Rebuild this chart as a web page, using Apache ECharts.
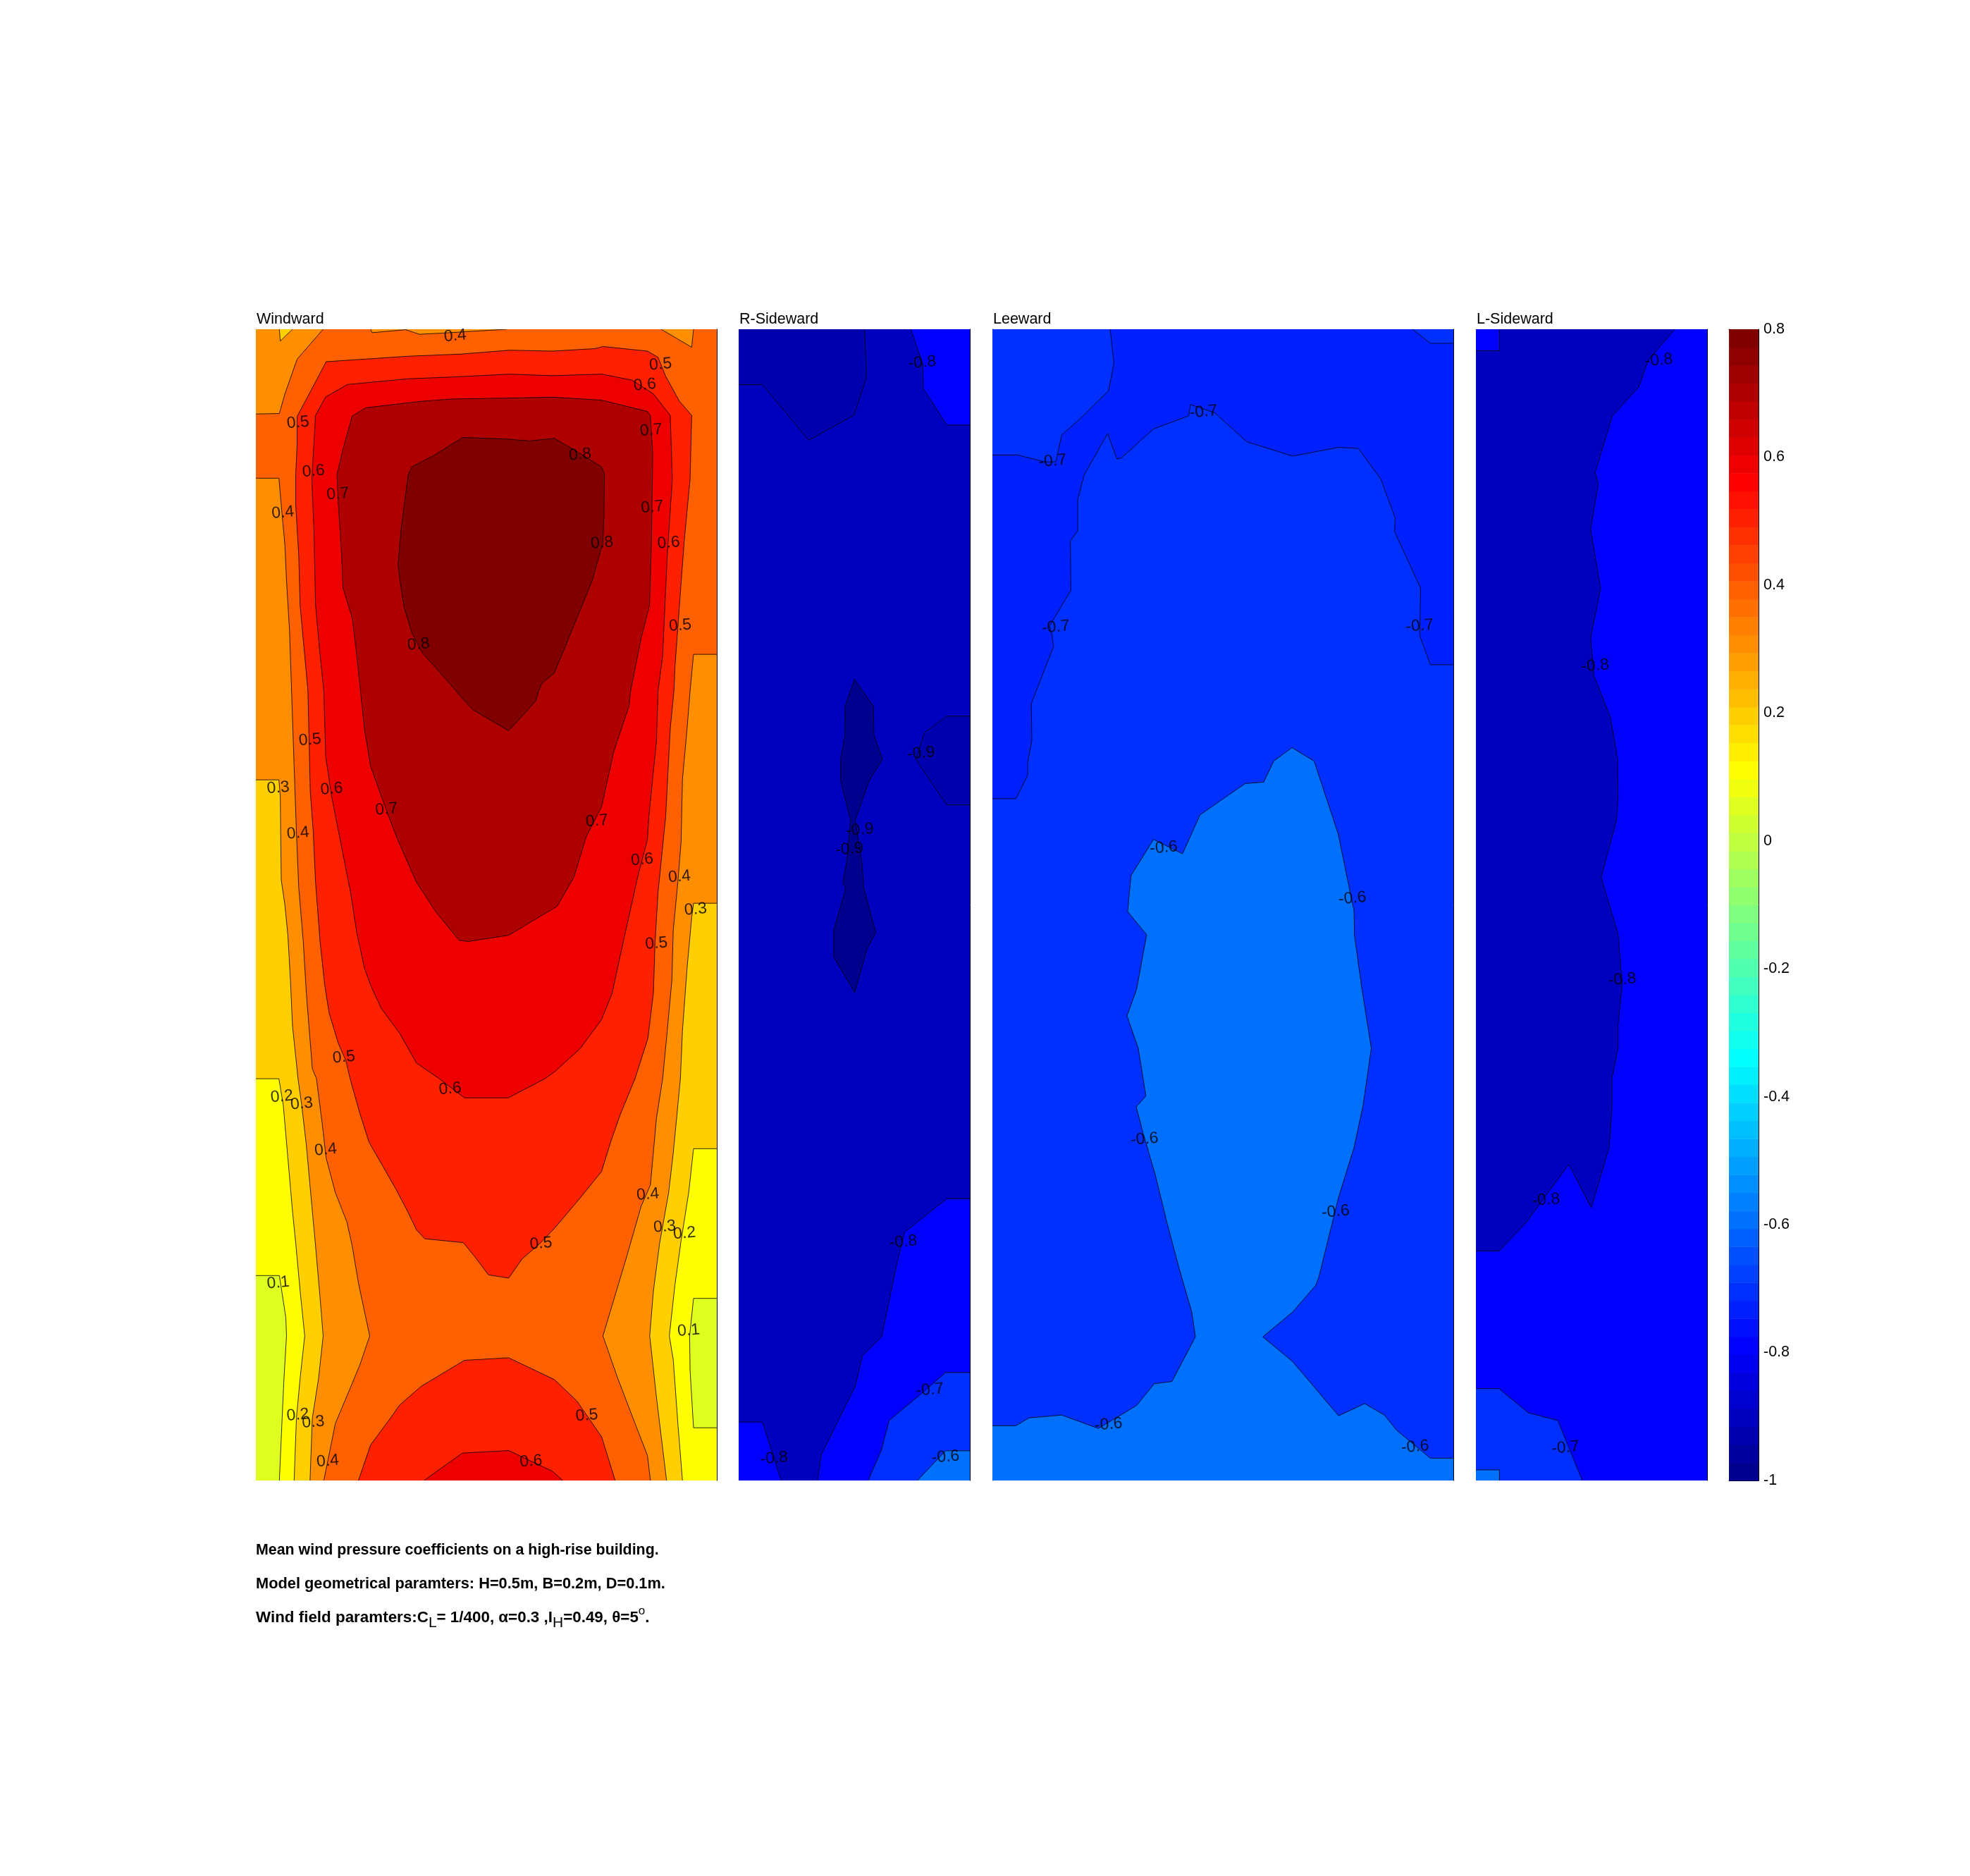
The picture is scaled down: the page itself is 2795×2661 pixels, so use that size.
<!DOCTYPE html>
<html><head><meta charset="utf-8">
<style>html,body{margin:0;padding:0;background:#fff}#c{width:2795px;height:2661px}</style>
<script src="https://cdn.jsdelivr.net/npm/echarts@6/dist/echarts.min.js"></script>
</head><body><div id="c"></div>
<script>
// Contour regions, in model millimetres: x across the face, y = height above ground.
const faceW = [[0,0],[200,0],[200,500],[0,500]];
const faceD = [[0,0],[100,0],[100,500],[0,500]];

// ---- Windward (B = 200 mm)
const wLowL = [[0,89],[10.2,89],[13,70.8],[13.3,62.8],[12.2,44.3],[11.3,24.8],[10.2,0],[0,0]];
const wLowR = [[200,79.1],[189.9,79.1],[188.2,62.8],[188.4,47.8],[189.9,22.9],[200,22.9]];
const w02 = [[16.6,0],[17.6,27.1],[19.2,44.3],[21.2,62.8],[19.2,82.4],[17.3,103.1],[15.9,116.9],[13.9,140],[11.9,163],[10,174.5],[0,174.5],[0,500],[200,500],[200,144.1],[189.9,144.1],[187.8,125],[184.5,104.2],[181.8,84.7],[179.4,62.8],[181.1,52.4],[183.1,24.8],[185.1,0]];
const w03 = [[23.5,0],[24.5,27.1],[27.2,44.3],[29.2,62.8],[27.9,78.9],[25.9,101.9],[24.3,119.2],[21.9,145.7],[19.9,163],[18.3,174.5],[15.9,197.5],[15,217.2],[13.9,236.8],[12.6,250],[11,260.9],[10.6,297],[10,304.3],[0,304.3],[0,500],[200,500],[200,250.7],[189.9,250.7],[189.1,244.5],[187.1,222.6],[185.1,195.3],[184.2,174.5],[181.1,142.2],[179.1,125],[175.2,103.1],[172.5,82.4],[170.9,62.8],[173.8,36.3],[178.2,0]];
const w03Top = [[10.2,500],[10.6,494.9],[15.9,500]];
const w04 = [[29.5,0],[34.5,24.8],[39.8,37.4],[45.1,50.1],[49.4,62.8],[44.5,85.8],[41.8,101.9],[39.5,112.3],[34.5,125],[30.5,140],[28.8,154.9],[26.3,174.5],[24.5,178.9],[21.9,211.7],[20.6,233.6],[18.6,257.6],[17.6,281.7],[16.6,310.1],[15.5,342.9],[14.6,369.1],[13.3,391],[12.6,406.3],[11.3,420.5],[10,435.3],[0,435.3],[0,463.2],[10.2,463.4],[12.6,471.9],[17.9,487],[29.2,500],[175.8,500],[189.1,492.2],[189.9,500],[200,500],[200,358.8],[189.9,358.8],[188.4,342.9],[187.1,326.5],[185.1,304.6],[184.5,277.3],[183.1,259.8],[181.1,239],[180.5,217.2],[178.5,195.3],[176.5,174.5],[173.8,157.2],[171.2,128.4],[167.2,119.2],[160.6,96.2],[150.6,62.8],[156.6,45.5],[163.2,28.2],[169.9,10.9],[171.2,0]];
const w04Top = [[49.8,500],[50.4,498.5],[65,499.8],[71,497.8],[82.3,498.4],[108.8,500]];
const w05Up = [[30.5,485.9],[66.4,488.3],[88.9,489.2],[110.1,490.9],[128.7,490.5],[147.3,491.6],[150.6,492.5],[169.9,490.5],[174.5,487.8],[177.8,479.6],[183.8,468.7],[189.1,462.6],[188.4,434.8],[185.8,407.4],[183.8,380.1],[181.8,352.7],[181.4,342.9],[179.8,326.5],[177.8,288.2],[174.5,255.4],[173.2,233.6],[172.5,211.7],[170.1,192],[164.5,174.5],[157.9,158.4],[153.9,146.9],[150,134.2],[140.7,122.7],[130,110],[123.4,103.1],[115.5,96.2],[109.7,87.9],[100.9,89.3],[94.9,97.3],[90,103.3],[73.3,105],[69.7,108.8],[66.4,115.8],[61,126.1],[55.1,136.5],[49.1,146.9],[45.1,159.5],[40.9,174.5],[39.1,182.2],[35.8,189.8],[31.8,202.9],[29.9,215],[27.9,233.6],[25.9,259.8],[24.9,281.7],[23.6,299.2],[22.6,342.9],[21.2,358.2],[19.2,380.1],[18.6,402],[17.3,423.8],[17.3,436.9],[17.9,450.1],[17.9,462.1],[27.2,479.6]];
const w05Low = [[44.5,0],[49.8,15.5],[58.4,27.1],[62.4,32.8],[71.7,40.9],[90.5,52.2],[109.7,53.3],[129.6,43.8],[139.3,34.5],[150,19],[155.9,0]];
const w06Up = [[39.8,476],[66.4,478.5],[88.9,479.4],[110.1,480.5],[128.7,479.8],[150,480.5],[163.2,477.9],[172.5,471.9],[179.8,462.6],[180.7,434.8],[178.5,402],[176.5,358.2],[174.5,342.9],[173.8,321],[170.5,288.2],[169.9,278.4],[165.9,263.1],[158.6,230.3],[154.6,211.7],[150,200.2],[140.7,187.6],[130,177.8],[125.4,174.5],[109.5,166.2],[90.5,166.2],[79.6,174.5],[69.7,181.3],[62.4,194.2],[54.4,205.1],[49.8,215],[47.1,222.6],[43.8,237.9],[41.1,255.4],[37.2,275.1],[32.9,297],[30.3,314.5],[29.5,342.9],[27.9,358.2],[25.9,380.1],[25.2,412.9],[24.3,434.8],[25.9,462.6],[30.3,470.6]];
const w06Low = [[73,0],[89.6,11.9],[109.7,13],[128.7,4],[133.1,0]];
const w07 = [[47.8,465.9],[71.7,468.7],[84.9,469.7],[108.8,470.1],[128.7,470.5],[150,469.2],[169.9,464.3],[171.2,462.6],[172.2,445.7],[171.8,418.3],[171.5,402],[170.8,380.1],[167.2,365.9],[162.6,342.9],[161.9,336.3],[155.3,316.6],[150,292.6],[143.3,279.5],[138,262],[130.7,249.4],[109.7,236.8],[92.2,234.1],[88.2,234.6],[78.3,246.7],[69.7,259.8],[61,279.5],[55.7,293.7],[49.8,310.1],[47.1,326.5],[45.4,342.9],[43.8,358.2],[41.8,374.6],[37.8,387.7],[37.2,402],[35.8,423.8],[35.2,436.9],[37.8,447.9],[41.8,462.3]];
const w08 = [[89.8,453],[108.8,452.3],[118.8,451.5],[129.6,452.6],[141.3,445.7],[150,440.2],[151.3,436.9],[151,418.3],[150.6,407.4],[146,391],[139.3,374.6],[134,361.5],[129.4,350.6],[124.1,346.2],[122.7,342.9],[121.4,338.5],[109.7,325.6],[94.2,334.7],[89.6,339.6],[86.9,342.9],[78.3,352.7],[72.3,359.3],[67.7,368.1],[64.4,379],[63,387.7],[61.7,397.6],[63,412.9],[64.4,423.8],[66.1,436.9],[67.7,440.2],[77,445.1]];
const wLabels = [[86.5,497.1,'0.4'],[175.6,484.7,'0.5'],[168.8,475.8,'0.6'],[171.5,456.1,'0.7'],[18.3,459.4,'0.5'],[140.7,445.5,'0.8'],[25,438.3,'0.6'],[35.6,428.4,'0.7'],[11.7,420.3,'0.4'],[172,422.7,'0.7'],[150.2,407.2,'0.8'],[179.1,407.2,'0.6'],[184.1,371.3,'0.5'],[70.6,363.1,'0.8'],[23.5,321.6,'0.5'],[9.7,300.8,'0.3'],[32.9,300.3,'0.6'],[56.7,291.5,'0.7'],[18.3,281.1,'0.4'],[148,286.4,'0.7'],[167.6,269.6,'0.6'],[183.8,262.2,'0.4'],[190.8,248,'0.3'],[173.8,233.2,'0.5'],[38.2,183.8,'0.5'],[84.3,170.1,'0.6'],[11.3,166.7,'0.2'],[19.9,163.6,'0.3'],[30.3,143.6,'0.4'],[170.1,124.2,'0.4'],[177.4,110.2,'0.3'],[186,107.3,'0.2'],[123.7,102.9,'0.5'],[9.7,85.8,'0.1'],[187.8,65.1,'0.1'],[18.2,28.4,'0.2'],[24.9,25.3,'0.3'],[143.6,28.2,'0.5'],[119.4,8.3,'0.6'],[31.2,8.4,'0.4']];

// ---- R-Sideward (D = 100 mm)
const rTopL = [[0,500],[54.5,500],[55.3,479.2],[49.9,462.7],[30.3,451.8],[10.3,475.9],[0,475.9]];
const rTopR = [[74.5,500],[79.7,484.8],[79.9,474.2],[90,458.4],[100,458.4],[100,500]];
const rMidR = [[100,332],[90,332],[80.4,324.8],[76.6,313.2],[90,293.4],[100,293.4]];
const rSpike = [[50.1,347.9],[58.3,336.3],[58.5,323.8],[62.2,313.2],[56.5,304],[50.4,286.8],[53.3,268.6],[54.2,257.1],[59.3,238],[55.5,230.7],[50.2,211.9],[41.1,227.4],[41.1,238.9],[46.3,257.1],[45.1,259.7],[46.7,268.6],[48.4,286.8],[44.1,304],[44.1,313.2],[45.9,323.8],[46,336.3]];
const rLow08 = [[100,122.4],[90,122.4],[71.8,107.9],[68.7,95.4],[61.8,62.4],[53.5,54.1],[50.4,40.9],[35.7,11.2],[34.1,0],[100,0]];
const rLow07 = [[100,46.9],[89.5,46.9],[78.9,37.6],[65.1,26.1],[61.6,12.9],[56,0],[100,0]];
const rLow06 = [[100,12.9],[89.5,12.9],[77.3,0],[100,0]];
const rCorner = [[0,25.4],[10.3,25.4],[18.4,0],[0,0]];
const rLabels = [[79.4,485.5,'-0.8'],[78.9,315.8,'-0.9'],[52.4,282.5,'-0.9'],[47.9,274.2,'-0.9'],[71.2,103.6,'-0.8'],[82.7,39.3,'-0.7'],[89.5,10.2,'-0.6'],[15.3,9.6,'-0.8']];

// ---- Leeward (B = 200 mm)
const lwTopL = [[51.1,500],[52.7,485.1],[50.4,473.3],[37.4,460.5],[30.1,454.2],[27.5,442.4],[22.8,442.4],[10.9,445.4],[0,445.4],[0,500]];
const lwTopR = [[182.3,500],[190,493.9],[200,493.9],[200,500]];
const lwInner = [[0,296.1],[10.2,296.1],[15.3,306.3],[15.3,312],[17.1,321.1],[16.9,337.5],[26.5,362.1],[25.9,367],[24.8,371.1],[34.1,386.7],[33.8,408],[37,412.4],[37,426],[39.8,436.7],[50,454.7],[54,443.7],[56,444.1],[69.9,456.7],[85.2,462.4],[85.9,467.3],[96.5,463.7],[110.4,451.1],[130.3,444.9],[150.2,448.7],[158.8,448.2],[168.5,435],[174.8,417.8],[174.5,412.1],[185.8,387.5],[185.4,367],[190,354.3],[200,354.3],[200,0],[0,0]];
const lwCore = [[69.9,278.4],[82.5,272.2],[90.1,289.1],[109.7,302.7],[117.7,303.3],[122.1,312.5],[130,318.3],[139.6,312.4],[150,280.9],[154.9,257.1],[156.9,247.5],[157.1,236.7],[160.2,214.3],[164.4,187.7],[160.8,162.8],[156.9,144.6],[150.2,123],[141.6,88.2],[140.3,84.8],[130.3,73.2],[117.3,62.4],[130.3,51.6],[150.2,28.1],[161.5,33.4],[170.1,28.4],[175.4,21.8],[190,9.7],[200,9.7],[200,0],[0,0],[0,23.8],[10.2,23.8],[15.9,27.2],[30.1,28.4],[46,22.6],[62.6,32.6],[70.2,42],[77.9,43],[88.1,62.4],[86.5,73.2],[81.2,91.5],[75.9,111.4],[70.6,133],[65.3,151.2],[62.4,162.3],[66.6,167],[63.3,187.7],[58.4,201.8],[62.6,213.4],[66.9,237],[58.7,247.1],[59.3,254.1],[60.2,262.8]];
const lwLabels = [[91.6,464.1,'-0.7'],[26.1,442.7,'-0.7'],[27.5,370.6,'-0.7'],[185.4,371.1,'-0.7'],[74.3,274.8,'-0.6'],[156.2,252.8,'-0.6'],[66,148.2,'-0.6'],[148.9,116.7,'-0.6'],[50.4,24.3,'-0.6'],[183.4,14.6,'-0.6']];

// ---- L-Sideward (D = 100 mm)
const lMain = [[0,490.7],[10.2,490.7],[10.2,500],[86,500],[74.5,486.5],[70.4,474.9],[59,462.4],[51.6,437.9],[52.9,432.7],[49.6,413.2],[53.9,387.4],[49.6,366],[51.1,349.5],[58.2,331.3],[61.3,313.2],[61.5,296.7],[60.8,286.8],[54.2,262],[61.5,237.3],[63.3,215.8],[61.5,197.7],[61.5,187.8],[58.8,174.6],[58.8,161.4],[57.7,144.9],[49.9,118.5],[40.2,137.3],[21.6,111.9],[10,99.7],[0,99.7]];
const lLow07 = [[0,39.9],[10,39.9],[22.7,29.4],[35.4,26.1],[46,0],[0,0]];
const lLow06 = [[0,4.6],[10.2,4.6],[10.2,0],[0,0]];
const lLabels = [[79.1,486.5,'-0.8'],[51.6,353.8,'-0.8'],[63.3,217.5,'-0.8'],[30.3,121.8,'-0.8'],[38.7,14.2,'-0.7']];

// ---- Colour bar
const cbarRange = [-1, 0.8];
const jet64 = ['#00008F','#00009F','#0000AF','#0000BF','#0000CF','#0000DF','#0000EF','#0000FF','#0010FF','#0020FF','#0030FF','#0040FF','#0050FF','#0060FF','#0070FF','#0080FF','#008FFF','#009FFF','#00AFFF','#00BFFF','#00CFFF','#00DFFF','#00EFFF','#00FFFF','#10FFEF','#20FFDF','#30FFCF','#40FFBF','#50FFAF','#60FF9F','#70FF8F','#80FF80','#8FFF70','#9FFF60','#AFFF50','#BFFF40','#CFFF30','#DFFF20','#EFFF10','#FFFF00','#FFEF00','#FFDF00','#FFCF00','#FFBF00','#FFAF00','#FF9F00','#FF8F00','#FF8000','#FF7000','#FF6000','#FF5000','#FF4000','#FF3000','#FF2000','#FF1000','#FF0000','#EF0000','#DF0000','#CF0000','#BF0000','#AF0000','#9F0000','#8F0000','#800000'];

const titles = ['Windward','R-Sideward','Leeward','L-Sideward'];
const note1 = 'Mean wind pressure coefficients on a high-rise building.';
const note2 = 'Model geometrical paramters: H=0.5m, B=0.2m, D=0.1m.';

// paint order: each entry is [jet colour number, region]
const panels = [
  {name:titles[0], width:200, box:{left:363,width:654}, leftLine:false, labels:wLabels,
   regions:[[40,faceW],[38,wLowL],[38,wLowR],[43,w02],[47,w03],[43,w03Top],[50,w04],[47,w04Top],[54,w05Up],[54,w05Low],[57,w06Up],[57,w06Low],[61,w07],[64,w08]]},
  {name:titles[1], width:100, box:{left:1048,width:328}, leftLine:false, labels:rLabels,
   regions:[[4,faceD],[3,rTopL],[8,rTopR],[3,rMidR],[1,rSpike],[8,rLow08],[11,rLow07],[15,rLow06],[8,rCorner]]},
  {name:titles[2], width:200, box:{left:1408,width:654}, leftLine:true, labels:lwLabels,
   regions:[[10,faceW],[11,lwTopL],[11,lwTopR],[11,lwInner],[15,lwCore]]},
  {name:titles[3], width:100, box:{left:2094,width:328}, leftLine:false, labels:lLabels,
   regions:[[8,faceD],[4,lMain],[11,lLow07],[15,lLow06]]}
];

const TOP=467, H=1633, FONT='"Liberation Sans",Arial,sans-serif', black='#000';
const grids=[], xAxes=[], yAxes=[], series=[], titleList=[];

panels.forEach((p,k)=>{
  grids.push({left:p.box.left, width:p.box.width, top:TOP, height:H});
  xAxes.push({gridIndex:k, type:'value', min:0, max:p.width, show:false});
  yAxes.push({gridIndex:k, type:'value', min:0, max:500, position:'right',
    axisLine:{show:true,onZero:false,lineStyle:{color:black,width:1}}, axisTick:{show:false}, axisLabel:{show:false}, splitLine:{show:false}});
  const yIndex = yAxes.length-1;
  if(p.leftLine) yAxes.push({gridIndex:k, type:'value', min:0, max:500, position:'left',
    axisLine:{show:true,onZero:false,lineStyle:{color:black,width:1}}, axisTick:{show:false}, axisLabel:{show:false}, splitLine:{show:false}});
  const onEdge=(a,b)=>(a[0]===b[0]&&(a[0]===0||a[0]===p.width))||(a[1]===b[1]&&(a[1]===0||a[1]===500));
  series.push({type:'custom', name:p.name, xAxisIndex:k, yAxisIndex:yIndex, silent:true, clip:true, z:2,
    coordinateSystem:'cartesian2d', animation:false,
    data:p.regions.map((r,i)=>[r[1][0][0],r[1][0][1],i]),
    renderItem:(params,api)=>{
      const r=p.regions[api.value(2)], pts=r[1], px=pts.map(q=>api.coord(q));
      const children=[{type:'polygon',shape:{points:px},style:{fill:jet64[r[0]-1],stroke:null},silent:true}];
      let run=[];
      const flush=()=>{ if(run.length>1) children.push({type:'polyline',shape:{points:run},style:{stroke:black,lineWidth:0.8,fill:null},silent:true}); run=[]; };
      for(let i=0;i<pts.length;i++){
        const j=(i+1)%pts.length;
        if(onEdge(pts[i],pts[j])){flush();continue;}
        if(!run.length) run.push(px[i]);
        run.push(px[j]);
      }
      flush();
      return {type:'group',children};
    }});
  series.push({type:'scatter', name:p.name+' labels', xAxisIndex:k, yAxisIndex:yIndex, silent:true, z:5, animation:false,
    symbolSize:1, itemStyle:{color:'rgba(0,0,0,0)'}, data:p.labels.map(l=>({value:[l[0],l[1]],text:l[2]})),
    label:{show:true, position:'inside', rotate:5, formatter:o=>o.data.text, color:black, fontFamily:FONT, fontSize:23, textBorderWidth:0},
    labelLayout:{hideOverlap:false}});
  titleList.push({text:p.name, left:p.box.left+1, top:442, padding:0, textStyle:{fontFamily:FONT,fontSize:21.5,fontWeight:'normal',color:black}});
});

// colour bar
const cg=grids.length;
grids.push({left:2453, width:42, top:TOP, height:H});
xAxes.push({gridIndex:cg,type:'value',min:0,max:1,position:'bottom',axisLine:{show:true,onZero:false,lineStyle:{color:black}},axisTick:{show:false},axisLabel:{show:false},splitLine:{show:false}});
xAxes.push({gridIndex:cg,type:'value',min:0,max:1,position:'top',axisLine:{show:true,onZero:false,lineStyle:{color:black}},axisTick:{show:false},axisLabel:{show:false},splitLine:{show:false}});
const cy=yAxes.length;
const fmt=v=>String(Math.round(v*10)/10);
yAxes.push({gridIndex:cg,type:'value',min:cbarRange[0],max:cbarRange[1],interval:0.2,position:'right',
  axisLine:{show:true,onZero:false,lineStyle:{color:black}},axisTick:{show:true,inside:true,length:17,lineStyle:{color:black}},
  axisLabel:{show:true,margin:7,padding:[5,0,0,0],color:black,fontFamily:FONT,fontSize:21.5,formatter:fmt},splitLine:{show:false}});
yAxes.push({gridIndex:cg,type:'value',min:cbarRange[0],max:cbarRange[1],interval:0.2,position:'left',
  axisLine:{show:true,onZero:false,lineStyle:{color:black}},axisTick:{show:true,inside:true,length:17,lineStyle:{color:black}},
  axisLabel:{show:false},splitLine:{show:false}});
const cbStep=(cbarRange[1]-cbarRange[0])/jet64.length;
series.push({type:'custom',name:'colorbar',xAxisIndex:xAxes.length-2,yAxisIndex:cy,silent:true,animation:false,z:1,
  data:jet64.map((c,i)=>[cbarRange[0]+i*cbStep,i]),
  encode:{x:-1,y:0},
  renderItem:(params,api)=>{
    const lo=api.value(0), a=api.coord([0,lo]), b=api.coord([1,lo+cbStep]);
    return {type:'rect',shape:{x:a[0],y:b[1],width:b[0]-a[0],height:a[1]-b[1]+0.5},style:{fill:jet64[api.value(1)]}};
  }});

// notes
const noteFont={fontFamily:FONT,fontWeight:'bold',color:black};
titleList.push({text:note1,left:363,top:2189,padding:0,textStyle:{...noteFont,fontSize:21.4}});
titleList.push({text:note2,left:363,top:2236,padding:0,textStyle:{...noteFont,fontSize:21.8}});
titleList.push({text:'{b|Wind field paramters:C}{s|L}{b|= 1/400, α=0.3 ,I}{s|H}{b|=0.49, θ=5}{u|o}{b|.}',left:363,top:2277,padding:0,
  textStyle:{rich:{
    b:{...noteFont,fontSize:22.4,lineHeight:36,verticalAlign:'middle'},
    s:{fontFamily:FONT,fontSize:21,fontWeight:'normal',color:black,lineHeight:21,verticalAlign:'bottom'},
    u:{fontFamily:FONT,fontSize:17,fontWeight:'normal',color:black,lineHeight:17,verticalAlign:'top'}
  }}});

const chart=echarts.init(document.getElementById('c'),null,{renderer:'canvas'});
chart.setOption({backgroundColor:'#fff',animation:false,title:titleList,grid:grids,xAxis:xAxes,yAxis:yAxes,series:series});
</script></body></html>
